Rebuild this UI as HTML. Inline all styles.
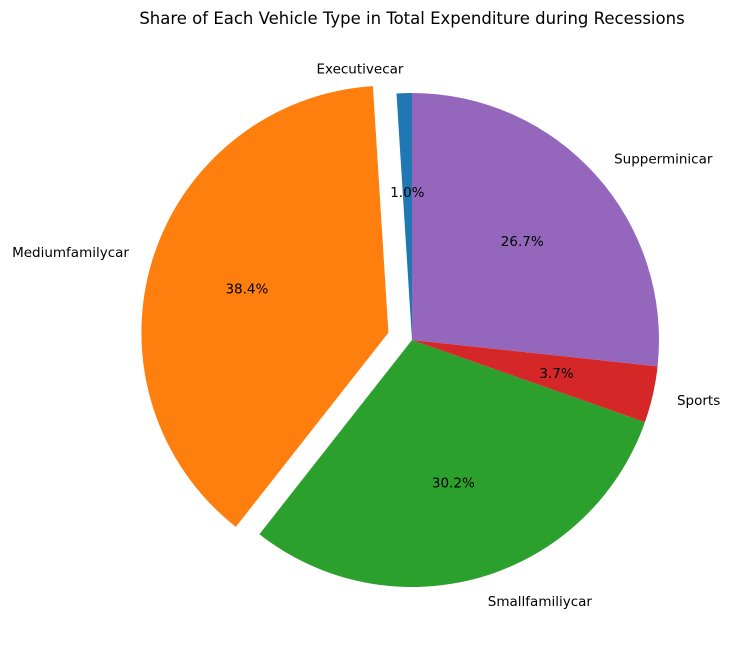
<!DOCTYPE html>
<html><head><meta charset="utf-8"><style>
body{margin:0;background:#fff;}
svg{display:block;font-family:"DejaVu Sans","Liberation Sans",sans-serif;}
</style></head><body>
<svg id="chart" width="731" height="658" viewBox="0 0 731 658">
<rect width="731" height="658" fill="#fff"/>
<text x="412" y="24" font-size="16.5" text-anchor="middle" fill="#000">Share of Each Vehicle Type in Total Expenditure during Recessions</text>
<g id="slices"></g>
<g id="labels"></g>
</svg>
<script>
const categories = ["Executivecar","Mediumfamilycar","Smallfamiliycar","Sports","Supperminicar"];
const values = [1.0, 38.4, 30.2, 3.7, 26.7];
const explode = [0, 0.1, 0, 0, 0];
const colors = ["#1f77b4","#ff7f0e","#2ca02c","#d62728","#9467bd"];
const cx = 412, cy = 340, r = 247;
const ns = "http://www.w3.org/2000/svg";
const g = document.getElementById('slices');
const gl = document.getElementById('labels');
const total = values.reduce((a,b)=>a+b,0);
let start = 90;
function pt(x,y,rad,deg){return [x+rad*Math.cos(deg*Math.PI/180), y-rad*Math.sin(deg*Math.PI/180)];}
values.forEach((v,i)=>{
  const sweep = v/total*360;
  const end = start+sweep, mid = start+sweep/2;
  const [ox,oy] = pt(cx,cy,explode[i]*r,mid);
  const [x1,y1] = pt(ox,oy,r,start), [x2,y2] = pt(ox,oy,r,end);
  const p = document.createElementNS(ns,'path');
  p.setAttribute('d',`M${ox},${oy} L${x1},${y1} A${r},${r} 0 ${sweep>180?1:0} 0 ${x2},${y2} Z`);
  p.setAttribute('fill',colors[i]);
  
  
  g.appendChild(p);
  const [lx,ly] = pt(ox,oy,r*1.1,mid);
  const t = document.createElementNS(ns,'text');
  t.setAttribute('x',lx); t.setAttribute('y',ly+5);
  t.setAttribute('font-size','13.5');
  t.setAttribute('text-anchor', Math.cos(mid*Math.PI/180)<0?'end':'start');
  t.textContent = categories[i];
  
  
  gl.appendChild(t);
  const [px,py] = pt(ox,oy,r*0.6,mid);
  const q = document.createElementNS(ns,'text');
  q.setAttribute('x',px); q.setAttribute('y',py+5);
  q.setAttribute('font-size','13.5');
  q.setAttribute('text-anchor','middle');
  q.textContent = v.toFixed(1)+'%';
  
  
  gl.appendChild(q);
  start = end;
});
</script>
</body></html>
